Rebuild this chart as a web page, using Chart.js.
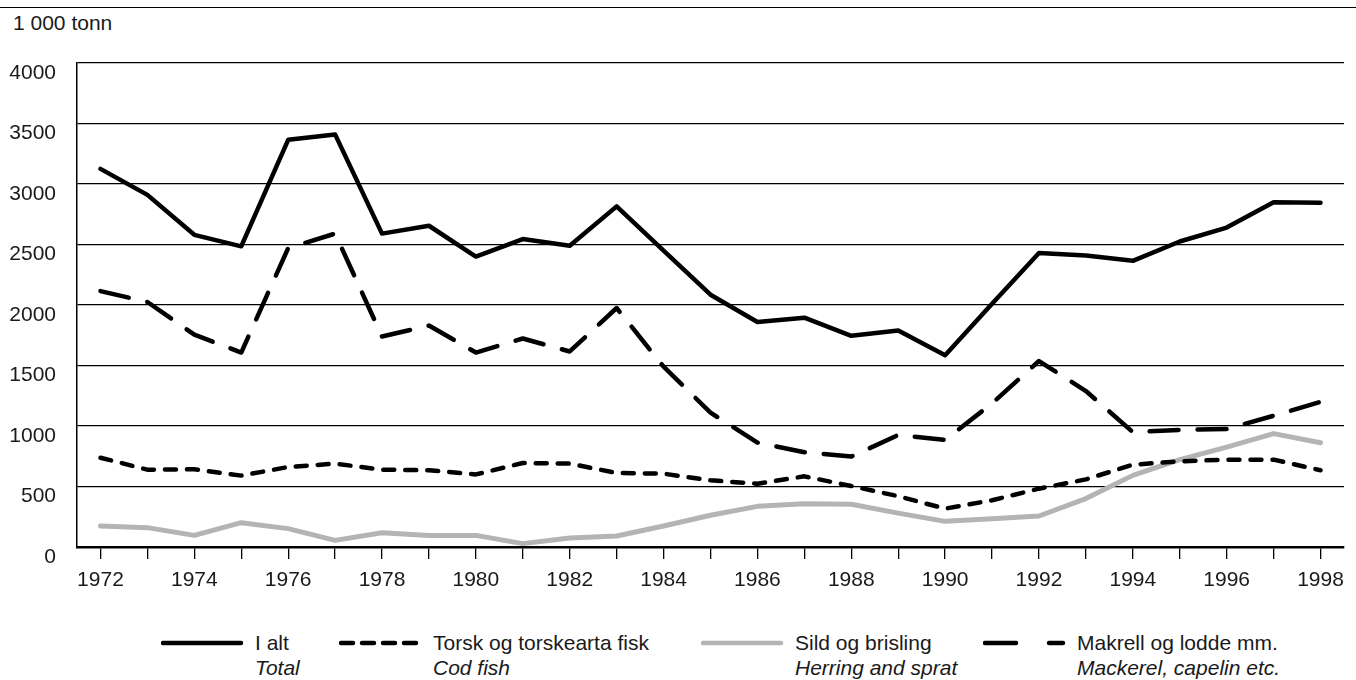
<!DOCTYPE html>
<html>
<head>
<meta charset="utf-8">
<script src="https://cdn.jsdelivr.net/npm/chart.js@4.4.0/dist/chart.umd.min.js"></script>
<style>
  body { margin: 0; background: #fff; font-family: "Liberation Sans", Arial, sans-serif; color: #1a1a1a; }
  #wrap { position: relative; width: 1356px; height: 680px; overflow: hidden; }
  .rule { position: absolute; left: 0; top: 7px; width: 1356px; height: 1px; background: #000; }
  .unit { position: absolute; left: 13px; top: 12px; font-size: 21px; line-height: 21px; }
  #chart { position: absolute; left: 0; top: 0; }
  .leg { position: absolute; top: 630px; height: 50px; }
  .leg svg { position: absolute; left: 0; top: 8px; }
  .leg .txt { position: absolute; top: 0; font-size: 21px; line-height: 25px; white-space: nowrap; }
  .leg .txt i { display: block; }
</style>
</head>
<body>
<div id="wrap">
  <div class="rule"></div>
  <div class="unit">1 000 tonn</div>
  <canvas id="chart" width="1356" height="610"></canvas>
  <div id="legend"></div>
</div>
<script>
  var years = ['1972', '1973', '1974', '1975', '1976', '1977', '1978', '1979', '1980', '1981', '1982', '1983', '1984',
               '1985', '1986', '1987', '1988', '1989', '1990', '1991', '1992', '1993', '1994', '1995', '1996', '1997', '1998'];

  // 1 000 tonn
  var total    = [3125, 2910, 2580, 2485, 3365, 3410, 2590, 2655, 2400, 2545, 2490, 2815, 2450,
                  2085, 1860, 1895, 1745, 1790, 1585, 2010, 2430, 2410, 2365, 2525, 2640, 2850, 2845];
  var cod      = [738, 639, 642, 590, 661, 689, 639, 634, 600, 694, 689, 612, 606,
                  551, 523, 584, 504, 420, 317, 386, 482, 559, 680, 708, 722, 722, 634];
  var herring  = [174, 160, 96, 201, 152, 55, 118, 96, 96, 28, 74, 91, 174,
                  262, 336, 358, 353, 280, 212, 234, 256, 400, 592, 722, 826, 937, 862];
  var mackerel = [2115, 2025, 1755, 1607, 2470, 2590, 1740, 1830, 1607, 1723, 1616, 1975, 1490,
                  1110, 863, 783, 747, 926, 885, 1187, 1537, 1289, 950, 968, 975, 1085, 1200];

  var namesNo = ['I alt', 'Torsk og torskearta fisk', 'Sild og brisling', 'Makrell og lodde mm.'];
  var namesEn = ['Total', 'Cod fish', 'Herring and sprat', 'Mackerel, capelin etc.'];

  Chart.defaults.font.family = '"Liberation Sans", Arial, sans-serif';
  Chart.defaults.color = '#1a1a1a';

  function line(label, data, color, dash, width) {
    return {
      label: label,
      data: data,
      borderColor: color,
      backgroundColor: color,
      borderWidth: width,
      borderDash: dash,
      borderCapStyle: 'round',
      borderJoinStyle: 'round',
      pointRadius: 0,
      tension: 0,
      fill: false
    };
  }

  var chart = new Chart(document.getElementById('chart').getContext('2d'), {
    type: 'line',
    data: {
      labels: years,
      datasets: [
        line(namesNo[0], total, '#000', [], 4.5),
        line(namesNo[1], cod, '#000', [11, 11], 4.5),
        line(namesNo[2], herring, '#b4b4b4', [], 5),
        line(namesNo[3], mackerel, '#000', [29, 19], 4.5)
      ]
    },
    options: {
      responsive: false,
      animation: false,
      layout: { padding: { top: 63, right: 12, left: 0, bottom: 0 } },
      plugins: { legend: { display: false }, tooltip: { enabled: false } },
      scales: {
        x: {
          offset: true,
          grid: { offset: false, drawOnChartArea: false, drawTicks: true, tickLength: 12, color: '#000', lineWidth: 1.3 },
          border: { display: true, color: '#000', width: 2.5 },
          ticks: {
            autoSkip: false, maxRotation: 0, padding: 9, font: { size: 21 },
            callback: function(v, i) { return i % 2 === 0 ? this.getLabelForValue(v) : ''; }
          },
          afterFit: function(s) { s.height = 63; }
        },
        y: {
          min: 0, max: 4000,
          ticks: {
            stepSize: 500, padding: 21, labelOffset: 10, font: { size: 21 },
            callback: function(v) { return String(v); }
          },
          grid: { color: '#000', lineWidth: 1.2, drawTicks: false },
          border: { display: true, color: '#000', width: 1.5 },
          afterFit: function(s) { s.width = 77; }
        }
      }
    }
  });

  // Legend, two lines per series (Norwegian / English)
  var legX = [161, 339, 701, 983];
  var legend = document.getElementById('legend');
  chart.data.datasets.forEach(function(ds, i) {
    var dash = i === 1 ? '12 9' : (i === 3 ? '31 33' : 'none');
    var item = document.createElement('div');
    item.className = 'leg';
    item.style.left = legX[i] + 'px';
    item.innerHTML =
      '<svg width="84" height="10"><line x1="2" y1="5" x2="80" y2="5" stroke="' + ds.borderColor +
      '" stroke-width="4.5" stroke-linecap="round" stroke-dasharray="' + dash + '"/></svg>' +
      '<div class="txt" style="left:' + 94 + 'px">' + namesNo[i] + '<i>' + namesEn[i] + '</i></div>';
    legend.appendChild(item);
  });
</script>
</body>
</html>
